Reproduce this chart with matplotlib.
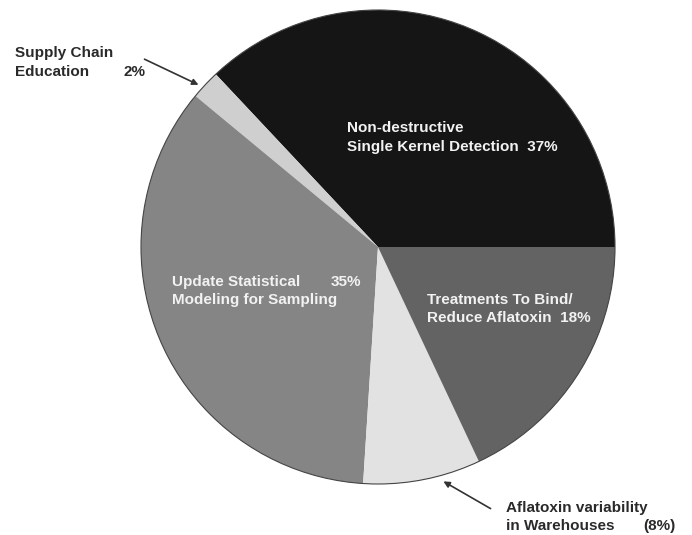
import matplotlib.pyplot as plt
from matplotlib.patches import Circle

# pie data (counter-clockwise from 3 o'clock)
labels = ["Non-destructive Single Kernel Detection", "Supply Chain Education",
          "Update Statistical Modeling for Sampling", "Aflatoxin variability in Warehouses",
          "Treatments To Bind/Reduce Aflatoxin"]
shares = [37, 2, 35, 8, 18]
colors = ["#151515", "#cfcfcf", "#858585", "#e2e2e2", "#636363"]

plt.rcParams['font.family'] = ['Liberation Sans', 'DejaVu Sans']

W, H = 692, 535
fig = plt.figure(figsize=(W / 100, H / 100), dpi=100)
ax = fig.add_axes([0, 0, 1, 1])

# center / radius in pixel units (y measured upward)
cx, cy, r = 378, H - 247, 237
ax.pie(shares, colors=colors, startangle=0, counterclock=True,
       center=(cx, cy), radius=r,
       wedgeprops=dict(edgecolor="none", linewidth=0))
ax.add_patch(Circle((cx, cy), r, fill=False, edgecolor="#444444", lw=0.8))
ax.set_xlim(0, W)
ax.set_ylim(0, H)
ax.set_aspect('equal')
ax.axis('off')

def y(p):
    return H - p

fs = 11
inside = dict(color="#f2f2f2", fontsize=fs, fontweight='bold', va='center', ha='left')
ax.text(347, y(128), "Non-destructive", **inside)
ax.text(347, y(147), "Single Kernel Detection  37%", **inside)
ax.text(172, y(282), "Update Statistical", **inside)
ax.text(331, y(282), "35%", **inside)
ax.text(172, y(300), "Modeling for Sampling", **inside)
ax.text(427, y(300), "Treatments To Bind/", **inside)
ax.text(427, y(318), "Reduce Aflatoxin  18%", **inside)

outside = dict(color="#2a2a2a", fontsize=fs, fontweight='bold', va='center', ha='left')
ax.text(15, y(53), "Supply Chain", **outside)
ax.text(15, y(72), "Education", **outside)
ax.text(123, y(72), "2%", **outside)
ax.text(506, y(508), "Aflatoxin variability", **outside)
ax.text(506, y(526), "in Warehouses", **outside)
ax.text(643, y(526), "(8%)", **outside)

arrow = dict(arrowstyle="-|>", color="#333333", lw=1.2, mutation_scale=9)
ax.annotate("", xy=(201, y(86)), xytext=(142, y(58)), arrowprops=arrow)
ax.annotate("", xy=(441, y(480)), xytext=(493, y(510)), arrowprops=arrow)

fig.savefig("out.png", dpi=100, facecolor="white")
